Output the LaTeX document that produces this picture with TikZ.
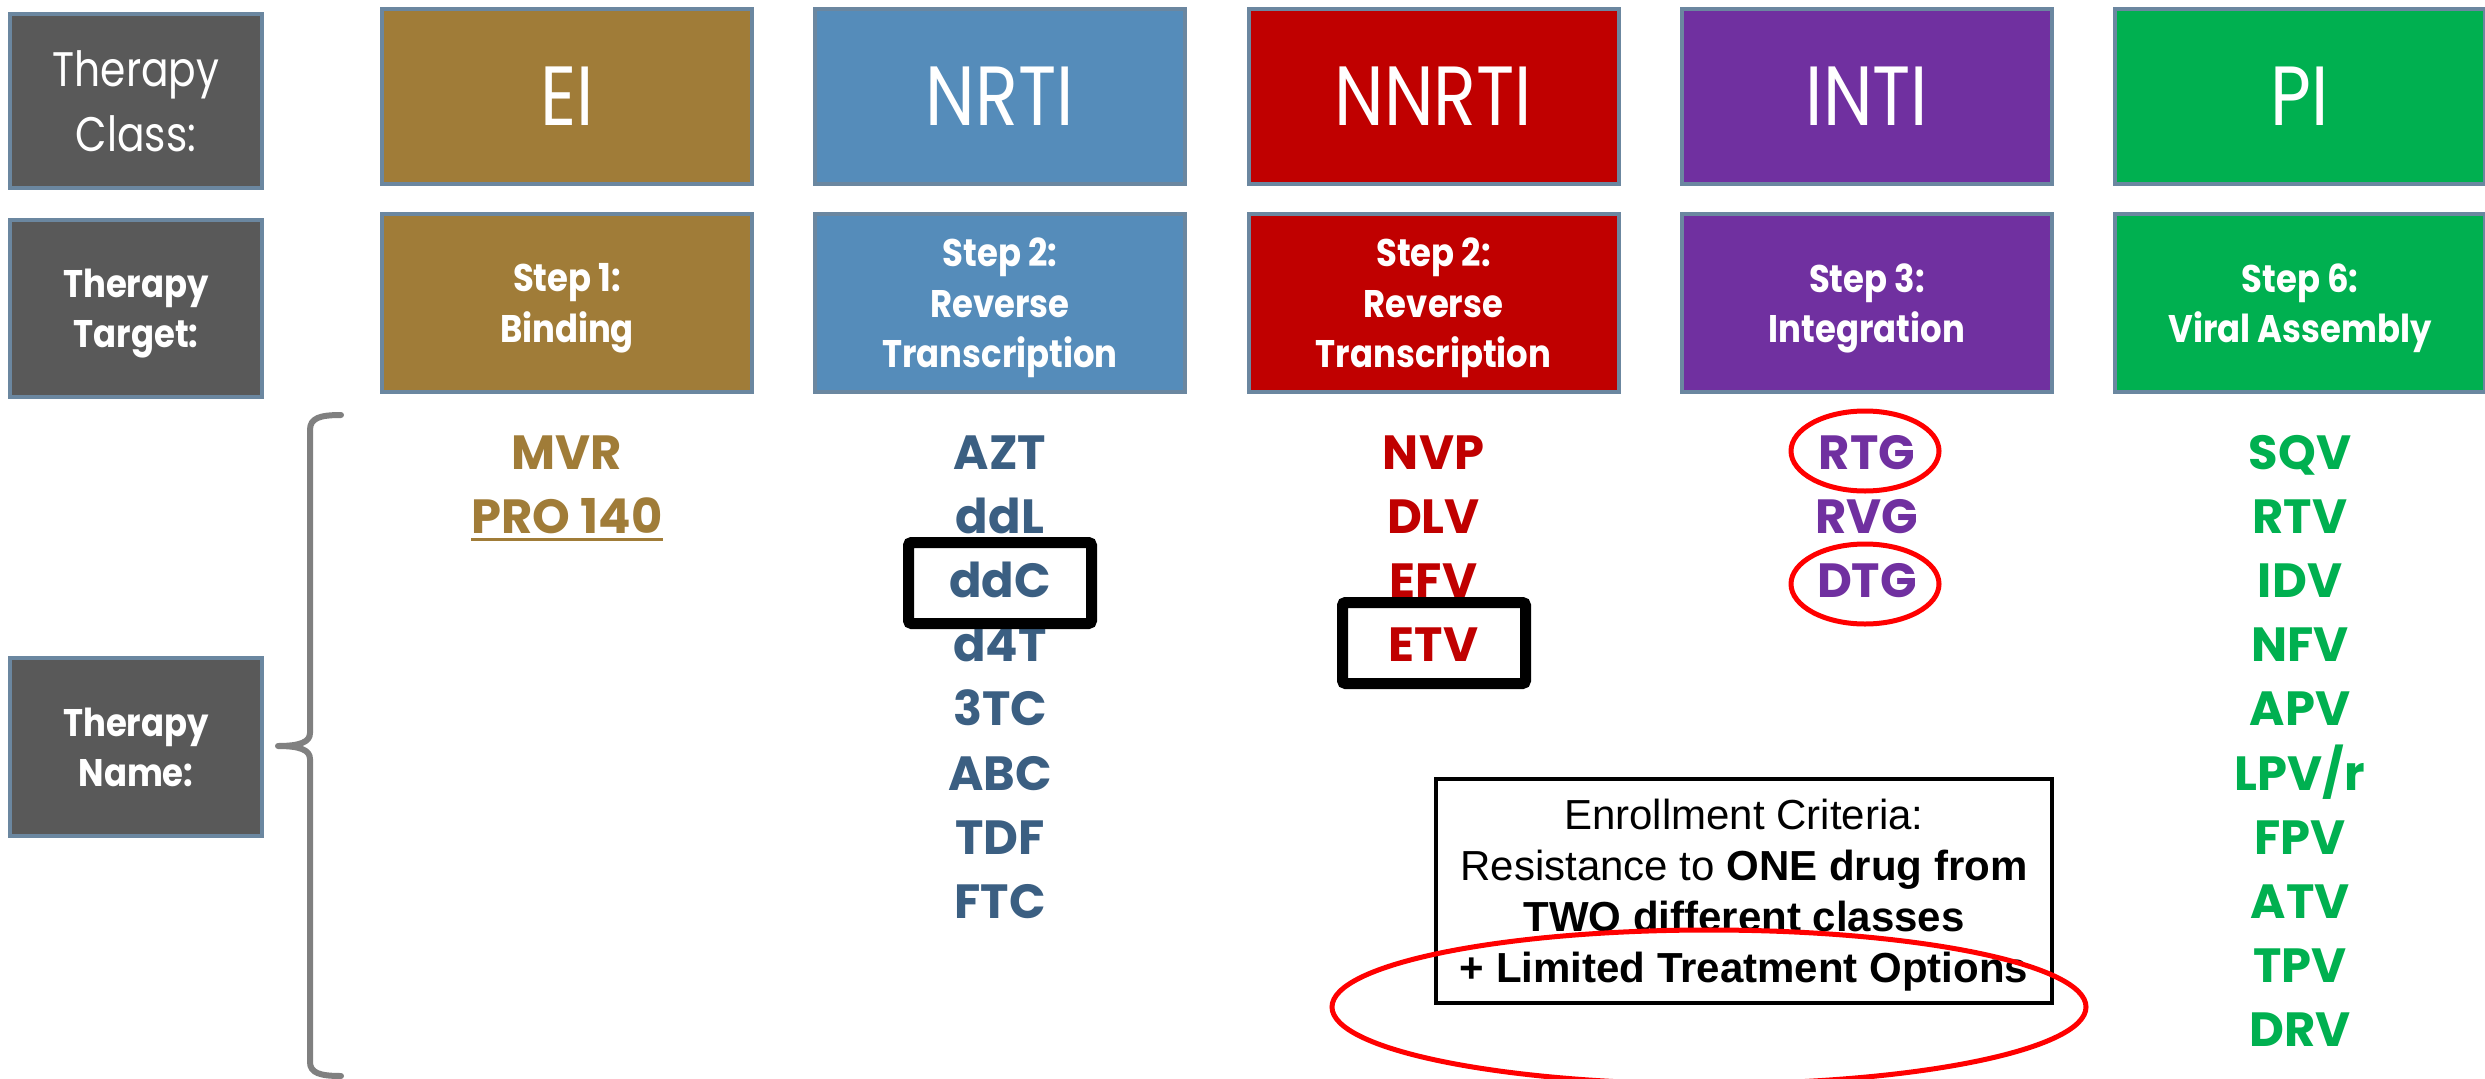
\documentclass[tikz,border=0pt]{standalone}
\usepackage{fontspec}
\setmainfont{Poppins}
\newfontfamily\headlight{Poppins}[FakeStretch=0.84]
\newfontfamily\headbold{Poppins}[FakeStretch=0.88]
\newfontfamily\drugfont{Poppins}
\newfontfamily\critfont{Liberation Sans}
\usetikzlibrary{shapes.geometric}

\definecolor{tagGray}{HTML}{595959}
\definecolor{rimBlue}{HTML}{6B87A0}
\definecolor{eiGold}{HTML}{A07C38}
\definecolor{nrtiBlue}{HTML}{558CBA}
\definecolor{nrtiText}{HTML}{3B5F82}
\definecolor{nnRed}{HTML}{C00000}
\definecolor{intiPurple}{HTML}{7030A0}
\definecolor{piGreen}{HTML}{00B050}
\definecolor{braceGray}{HTML}{808080}
\definecolor{ringRed}{HTML}{FF0000}

\tikzset{
  tagbox/.style={draw=rimBlue, line width=4pt, fill=tagGray, text=white, align=center,
    minimum width=252pt, inner sep=0pt, text depth=0pt},
  taglight/.style={tagbox, font=\headlight\fontsize{48.5}{65}\selectfont},
  tagbold/.style={tagbox, font=\headbold\bfseries\fontsize{38.5}{50}\selectfont},
  classbox/.style={draw=rimBlue, line width=4pt, text=white, minimum width=370pt,
    minimum height=175pt, inner sep=0pt, font=\headlight\fontsize{84}{90}\selectfont},
  stepbox/.style={draw=rimBlue, line width=4pt, text=white, minimum width=370pt,
    minimum height=178pt, inner sep=0pt, align=center, text depth=0pt,
    font=\headbold\bfseries\fontsize{38.5}{50.5}\selectfont},
  drug/.style={anchor=base, inner sep=0pt, font=\drugfont\bfseries\fontsize{48}{48}\selectfont},
  markbox/.style={draw=black, line width=11pt, rounded corners=3pt, minimum width=183pt,
    minimum height=81pt, inner sep=0pt},
  ring/.style={ellipse, draw=ringRed, line width=5pt, inner sep=0pt},
  critbox/.style={draw=black, line width=4pt, minimum width=616pt, minimum height=224pt,
    align=center, text depth=0pt, font=\critfont\fontsize{42}{51}\selectfont},
  bracket/.style={draw=braceGray, line width=6pt, line cap=round, line join=round}
}

\begin{document}
\begin{tikzpicture}[x=1pt, y=-1pt]
\useasboundingbox (0,0) rectangle (2485,1079);

% row labels
\node[taglight, minimum height=174pt] (lclass) at (136,101) {Therapy\\Class:};
\node[tagbold, minimum height=177pt] (ltarget) at (136,308.5) {Therapy\\Target:};
\node[tagbold, minimum height=178pt] (lname) at (136,747) {Therapy\\Name:};

% therapy classes
\node[classbox, fill=eiGold] (cEI) at (567,96.5) {EI};
\node[classbox, fill=nrtiBlue] (cNRTI) at (1000,96.5) {NRTI};
\node[classbox, fill=nnRed] (cNNRTI) at (1433.5,96.5) {NNRTI};
\node[classbox, fill=intiPurple] (cINTI) at (1867,96.5) {INTI};
\node[classbox, fill=piGreen] (cPI) at (2300,96.5) {PI};

% targets in the replication cycle
\node[stepbox, fill=eiGold] (sEI) at (567,303) {Step 1:\\Binding};
\node[stepbox, fill=nrtiBlue] (sNRTI) at (1000,303) {Step 2:\\Reverse\\Transcription};
\node[stepbox, fill=nnRed] (sNNRTI) at (1433.5,303) {Step 2:\\Reverse\\Transcription};
\node[stepbox, fill=intiPurple] (sINTI) at (1867,303) {Step 3:\\Integration};
\node[stepbox, fill=piGreen] (sPI) at (2300,303) {Step 6:\\Viral Assembly};

% brace grouping the drug names
\draw[bracket] (341,415) .. controls (320,415) and (310,418) .. (310,430)
  -- (310,733) .. controls (310,742) and (300,746) .. (278,746)
  .. controls (300,746) and (310,750) .. (310,759)
  -- (310,1062) .. controls (310,1073) and (320,1076) .. (341,1076);

% entry inhibitors
\node[drug, text=eiGold] (mvr) at (567,469) {MVR};
\node[drug, text=eiGold] (pro) at (567,533.2) {PRO 140};
\draw[eiGold, line width=3pt] ([yshift=-6pt]pro.base west) -- ([yshift=-6pt]pro.base east);

% nucleoside reverse transcriptase inhibitors
\node[drug, text=nrtiText] (azt) at (1000,469) {AZT};
\node[drug, text=nrtiText] (ddl) at (1000,533.2) {ddL};
\node[drug, text=nrtiText] (ddc) at (1000,597.4) {ddC};
\node[drug, text=nrtiText] (d4t) at (1000,661.6) {d4T};
\node[drug, text=nrtiText] (3tc) at (1000,725.8) {3TC};
\node[drug, text=nrtiText] (abc) at (1000,790) {ABC};
\node[drug, text=nrtiText] (tdf) at (1000,854.2) {TDF};
\node[drug, text=nrtiText] (ftc) at (1000,918.4) {FTC};

% non-nucleoside reverse transcriptase inhibitors
\node[drug, text=nnRed] (nvp) at (1433.5,469) {NVP};
\node[drug, text=nnRed] (dlv) at (1433.5,533.2) {DLV};
\node[drug, text=nnRed] (efv) at (1433.5,597.4) {EFV};
\node[drug, text=nnRed] (etv) at (1433.5,661.6) {ETV};

% integrase inhibitors
\node[drug, text=intiPurple] (rtg) at (1867,469) {RTG};
\node[drug, text=intiPurple] (rvg) at (1867,533.2) {RVG};
\node[drug, text=intiPurple] (dtg) at (1867,597.4) {DTG};

% protease inhibitors
\node[drug, text=piGreen] (sqv) at (2300,469) {SQV};
\node[drug, text=piGreen] (rtv) at (2300,533.2) {RTV};
\node[drug, text=piGreen] (idv) at (2300,597.4) {IDV};
\node[drug, text=piGreen] (nfv) at (2300,661.6) {NFV};
\node[drug, text=piGreen] (apv) at (2300,725.8) {APV};
\node[drug, text=piGreen] (lpv) at (2300,790) {LPV/r};
\node[drug, text=piGreen] (fpv) at (2300,854.2) {FPV};
\node[drug, text=piGreen] (atv) at (2300,918.4) {ATV};
\node[drug, text=piGreen] (tpv) at (2300,982.6) {TPV};
\node[drug, text=piGreen] (drv) at (2300,1046.8) {DRV};

% enrollment criteria
\node[critbox] (crit) at (1744,891) {Enrollment Criteria:\\
  Resistance to \textbf{ONE drug from}\\
  \textbf{TWO different classes}\\
  \textbf{+ Limited Treatment Options}};

% highlights
\node[markbox] (ddcmark) at (1000,583) {};
\node[markbox] (etvmark) at (1434,643) {};
\node[ring, minimum width=148pt, minimum height=80pt] (rtgring) at (1865,451) {};
\node[ring, minimum width=148pt, minimum height=80pt] (dtgring) at (1865,584) {};
\node[ring, minimum width=754pt, minimum height=154pt] (optring) at (1709,1007) {};
\end{tikzpicture}
\end{document}
